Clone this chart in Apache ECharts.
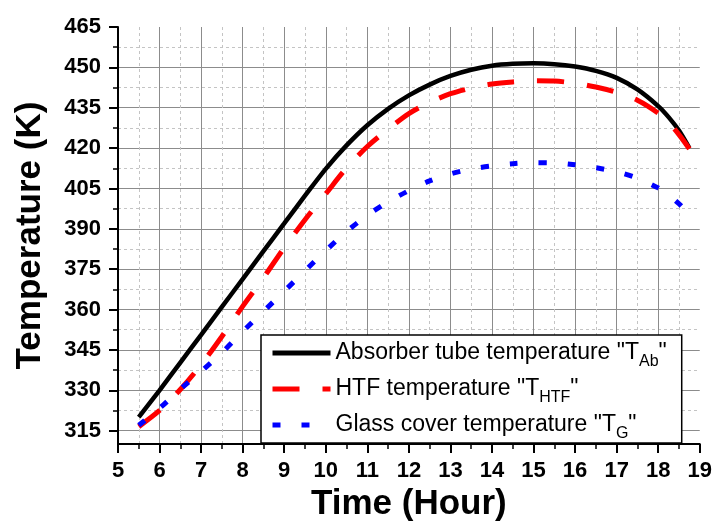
<!DOCTYPE html>
<html>
<head>
<meta charset="utf-8">
<script src="https://cdn.jsdelivr.net/npm/echarts@6/dist/echarts.min.js"></script>
<style>
  html, body { margin: 0; padding: 0; background: #fff; }
  #chart { width: 715px; height: 527px; }
</style>
</head>
<body>
<div id="chart"></div>
<script>
// time of day (hour)
const hours = [5.5, 6, 6.5, 7, 7.5, 8, 8.5, 9, 9.5, 10, 10.5, 11, 11.5, 12, 12.5, 13, 13.5,
  14, 14.5, 15, 15.5, 16, 16.5, 17, 17.5, 18, 18.25, 18.5, 18.75];

// absorber tube temperature T_Ab (K)
const absorberTemp = [320, 330, 340.3, 350.6, 361, 371.3, 381.7, 392, 402.3, 412.3, 421, 428.5, 434.6,
  439.6, 443.6, 446.8, 449.1, 450.6, 451.3, 451.5, 451.2, 450.3, 448.7, 446.1, 441.8, 435.6, 431.5, 426.5, 420];

// HTF temperature T_HTF (K)
const htfTemp = [316.5, 322.5, 330.3, 339.5, 350, 361.2, 371.8, 383, 393.4, 403, 412.6, 420.6, 427,
  432.8, 437, 440.2, 442.3, 443.8, 444.6, 445, 444.9, 444.1, 442.7, 440.7, 437.8, 433, 429.5, 425, 419.7];

// glass cover temperature T_G (K)
const glassTemp = [317, 323.3, 330.4, 337, 344, 351.8, 359.3, 366.8, 374.4, 381.9, 389, 395, 400,
  404.2, 407.8, 410.4, 412.2, 413.4, 414.2, 414.6, 414.5, 413.8, 412.7, 411.2, 408.8, 405.2, 402.6, 399.3, 395.3];

// y axis ticks
const yMajorTicks = [315, 330, 345, 360, 375, 390, 405, 420, 435, 450, 465];
const yMinorTicks = [322.5, 337.5, 352.5, 367.5, 382.5, 397.5, 412.5, 427.5, 442.5, 457.5];

const seriesNames = [
  'Absorber tube temperature "T{sub|Ab}"',
  'HTF temperature "T{sub|HTF}"',
  'Glass cover temperature "T{sub|G}"'
];

const FONT = '"Liberation Sans", Arial, sans-serif';

const chart = echarts.init(document.getElementById('chart'));

const toPairs = vals => hours.map((h, i) => [h, vals[i]]);

// hide the symbol ECharts puts in the middle of line legend icons
const noSymbol = { color: 'rgba(0,0,0,0)', borderColor: 'rgba(0,0,0,0)', borderWidth: 0 };

const option = {
  animation: false,
  backgroundColor: '#fff',
  grid: { left: 118, right: 15, top: 27, bottom: 71 },
  xAxis: {
    type: 'value',
    min: 5,
    max: 19,
    interval: 1,
    name: 'Time (Hour)',
    nameLocation: 'middle',
    nameGap: 38,
    nameTextStyle: { fontFamily: FONT, fontSize: 35, fontWeight: 'bold', color: '#000' },
    axisLine: { onZero: false, lineStyle: { color: '#000', width: 2 } },
    axisTick: { inside: false, length: 9, lineStyle: { color: '#000', width: 2 } },
    minorTick: { show: true, splitNumber: 2, length: 5, lineStyle: { color: '#000', width: 1.5 } },
    axisLabel: { margin: 16, fontFamily: FONT, fontSize: 22, fontWeight: 'bold', color: '#000' },
    splitLine: { show: true, showMinLine: false, showMaxLine: false, lineStyle: { color: '#8c8c8c', width: 1 } },
    minorSplitLine: { show: true, lineStyle: { color: '#c4c4c4', width: 1, type: [3, 3] } }
  },
  yAxis: [
    {
      type: 'value',
      min: 310,
      max: 465,
      position: 'left',
      name: 'Temperature (K)',
      nameLocation: 'middle',
      nameGap: 70,
      nameRotate: 90,
      nameTextStyle: { fontFamily: FONT, fontSize: 35, fontWeight: 'bold', color: '#000' },
      axisLine: { show: true, onZero: false, lineStyle: { color: '#000', width: 2 } },
      axisTick: { show: true, inside: false, length: 9, customValues: yMajorTicks, lineStyle: { color: '#000', width: 2 } },
      axisLabel: { margin: 17, customValues: yMajorTicks, fontFamily: FONT, fontSize: 22, fontWeight: 'bold', color: '#000' },
      splitLine: { show: true, showMinLine: true, showMaxLine: false, lineStyle: { color: '#8c8c8c', width: 1 } }
    },
    {
      type: 'value',
      min: 310,
      max: 465,
      position: 'left',
      offset: 0,
      axisLine: { show: false },
      axisTick: { show: true, inside: false, length: 5, customValues: yMinorTicks, lineStyle: { color: '#000', width: 1.5 } },
      axisLabel: { show: false, customValues: yMinorTicks },
      splitLine: { show: true, lineStyle: { color: '#c4c4c4', width: 1, type: [3, 3] } }
    }
  ],
  legend: {
    orient: 'vertical',
    left: 261,
    top: 335,
    padding: [1, 15, 1, 9],
    itemGap: 2,
    itemWidth: 58,
    itemHeight: 10,
    backgroundColor: '#fff',
    borderColor: '#000',
    borderWidth: 1.5,
    borderRadius: 0,
    data: [
      { name: seriesNames[0], itemStyle: noSymbol, lineStyle: { color: '#000', width: 5, type: 'solid' } },
      { name: seriesNames[1], itemStyle: noSymbol, lineStyle: { color: '#ff0000', width: 5, type: [27, 23] } },
      { name: seriesNames[2], itemStyle: noSymbol, lineStyle: { color: '#0000ff', width: 5, type: [8, 21] } }
    ],
    textStyle: {
      fontFamily: FONT,
      fontSize: 23,
      lineHeight: 34,
      color: '#000',
      rich: {
        sub: { fontFamily: FONT, fontSize: 16, lineHeight: 16, verticalAlign: 'bottom', color: '#000' }
      }
    }
  },
  series: [
    {
      name: seriesNames[0],
      type: 'line',
      data: toPairs(absorberTemp),
      smooth: 0.3,
      symbol: 'none',
      lineStyle: { color: '#000', width: 4.5 },
      itemStyle: { color: '#000' }
    },
    {
      name: seriesNames[1],
      type: 'line',
      data: toPairs(htfTemp),
      smooth: 0.3,
      symbol: 'none',
      lineStyle: { color: '#ff0000', width: 5, type: [27, 23] },
      itemStyle: { color: '#ff0000' }
    },
    {
      name: seriesNames[2],
      type: 'line',
      data: toPairs(glassTemp),
      smooth: 0.3,
      symbol: 'none',
      lineStyle: { color: '#0000ff', width: 5, type: [8, 21] },
      itemStyle: { color: '#0000ff' }
    }
  ]
};

chart.setOption(option);
</script>
</body>
</html>
